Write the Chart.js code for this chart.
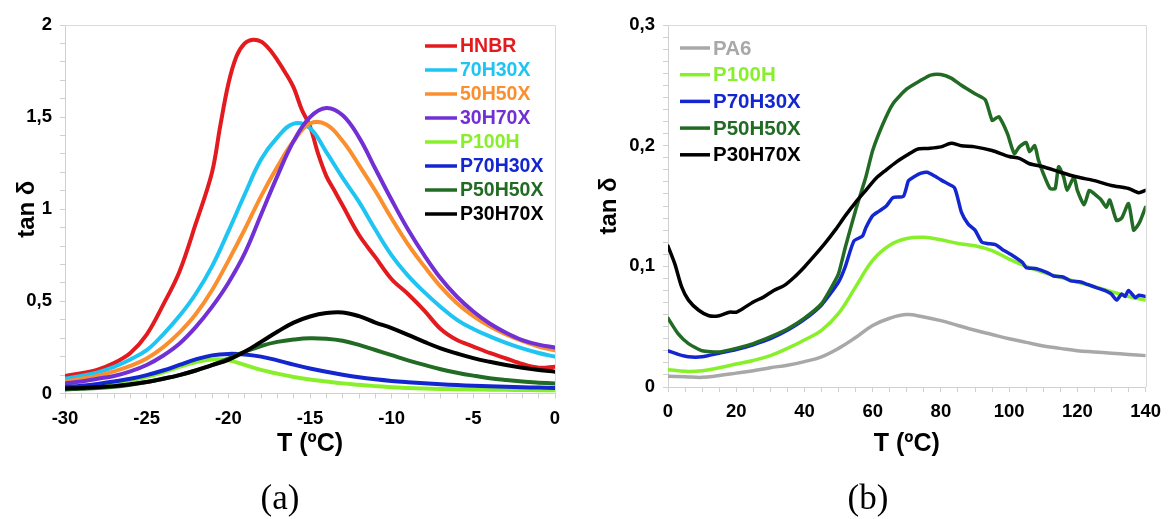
<!DOCTYPE html>
<html>
<head>
<meta charset="utf-8">
<script src="https://cdn.jsdelivr.net/npm/chart.js@4.4.1/dist/chart.umd.min.js"></script>
<style>
  html, body { margin: 0; padding: 0; background: #fff; }
  #wrap { position: relative; width: 1170px; height: 519px; overflow: hidden; }
  canvas { position: absolute; top: 0; }
  #chartA { left: 0; }
  #chartB { left: 590px; }
</style>
</head>
<body>
<div id="wrap">
  <canvas id="chartA" width="590" height="519"></canvas>
  <canvas id="chartB" width="580" height="519"></canvas>
</div>
<script>
// ---- Panel (a): tan δ of the rubber phases, -30 … 0 ºC ----
const tempA = [-30,-29,-28,-27,-26,-25,-24,-23,-22,-21,-20,-19,-18,-17,-16,-15,-14,-13,-12,-11,-10,-9,-8,-7,-6,-5,-4,-3,-2,-1,0];
const tempHNBR = [-30,-29,-28,-27,-26,-25,-24,-23,-22,-21,-20.5,-20,-19.5,-19,-18.5,-18,-17.5,-17,-16.5,-16,-15.5,-15,-14.5,-14,-13.5,-13,-12,-11,-10,-9,-8,-7,-6,-5,-4,-3,-2,-1,0];
const hnbr    = [0.095,0.11,0.13,0.165,0.22,0.32,0.48,0.66,0.92,1.2,1.45,1.68,1.83,1.90,1.92,1.91,1.87,1.81,1.74,1.66,1.54,1.45,1.30,1.18,1.10,1.02,0.86,0.74,0.62,0.54,0.45,0.35,0.29,0.255,0.22,0.19,0.16,0.14,0.145];
const h70x30  = [0.08,0.095,0.115,0.145,0.185,0.235,0.32,0.42,0.54,0.69,0.88,1.08,1.27,1.39,1.465,1.44,1.31,1.17,1.04,0.89,0.75,0.64,0.55,0.47,0.40,0.35,0.31,0.275,0.245,0.22,0.20];
const h50x50  = [0.065,0.08,0.095,0.12,0.15,0.19,0.25,0.33,0.43,0.56,0.72,0.89,1.07,1.23,1.37,1.465,1.46,1.37,1.24,1.10,0.95,0.81,0.69,0.58,0.49,0.42,0.365,0.32,0.285,0.255,0.235];
const h30x70  = [0.055,0.065,0.08,0.095,0.12,0.155,0.205,0.27,0.36,0.47,0.60,0.76,0.97,1.18,1.37,1.50,1.55,1.51,1.39,1.22,1.05,0.89,0.75,0.625,0.525,0.445,0.38,0.33,0.29,0.265,0.25];
const p100hA  = [0.03,0.036,0.044,0.055,0.07,0.09,0.115,0.145,0.17,0.185,0.18,0.155,0.128,0.108,0.09,0.076,0.065,0.055,0.047,0.04,0.034,0.03,0.027,0.025,0.023,0.022,0.021,0.02,0.019,0.018,0.018];
const p70h30xA = [0.035,0.042,0.052,0.065,0.08,0.10,0.125,0.155,0.185,0.207,0.215,0.212,0.2,0.18,0.157,0.136,0.118,0.102,0.088,0.077,0.068,0.061,0.055,0.05,0.046,0.042,0.039,0.036,0.034,0.032,0.03];
const p50h50xA = [0.022,0.026,0.03,0.036,0.047,0.062,0.08,0.10,0.125,0.154,0.19,0.226,0.258,0.28,0.293,0.30,0.297,0.286,0.264,0.236,0.208,0.18,0.155,0.132,0.113,0.097,0.083,0.073,0.065,0.059,0.054];
const p30h70xA = [0.027,0.03,0.035,0.04,0.05,0.062,0.08,0.10,0.125,0.154,0.183,0.226,0.28,0.335,0.385,0.418,0.437,0.44,0.42,0.385,0.355,0.318,0.28,0.245,0.217,0.192,0.172,0.155,0.14,0.128,0.118];

// ---- Panel (b): tan δ of the polyamide blends, 0 … 140 ºC ----
const tempB = [0,5,10,15,20,25,30,35,40,45,50,55,60,65,70,75,80,85,90,95,100,105,110,115,120,125,130,135,140];
const pa6   = [0.009,0.0085,0.008,0.0095,0.0115,0.0135,0.016,0.018,0.021,0.025,0.032,0.041,0.051,0.057,0.060,0.058,0.055,0.051,0.047,0.0435,0.040,0.037,0.034,0.032,0.030,0.029,0.028,0.027,0.026];
const p100hB = [0.0144,0.013,0.0135,0.016,0.019,0.022,0.026,0.032,0.039,0.047,0.061,0.083,0.105,0.1175,0.123,0.124,0.122,0.119,0.117,0.113,0.106,0.100,0.095,0.091,0.087,0.083,0.079,0.075,0.072];
const tempP70 = [0,3,6,10,15,20,25,30,35,40,45,50,52,54.5,57,58,60,62,64,66,69,70.5,72,74,76,78,81,84,86,88,90,92,93.5,96,98,101,104,105,108,111,113,116,118,121,123,126,128,130,131.5,133,134,135,137,138,140];
const p70h30xB = [0.030,0.027,0.025,0.025,0.028,0.031,0.035,0.040,0.047,0.056,0.068,0.087,0.100,0.121,0.125,0.132,0.142,0.146,0.150,0.157,0.158,0.171,0.174,0.177,0.178,0.175,0.170,0.165,0.145,0.135,0.130,0.120,0.119,0.118,0.114,0.109,0.103,0.099,0.098,0.095,0.092,0.091,0.088,0.087,0.085,0.082,0.080,0.077,0.072,0.077,0.075,0.080,0.074,0.076,0.075];
const tempP50 = [0,3,6,10,15,20,25,30,35,40,45,48,50,52,55,58,60,63,66,70,74,77,80,83,86,90,93,95,96,97,99.5,101.5,103,105,106,107.5,108.5,110,112,113.5,114.5,116,117,119,120,122,123.5,125,127,128.5,129.5,131.5,133,135,136.5,137.5,138.5,140];
const p50h50xB = [0.057,0.044,0.036,0.030,0.029,0.032,0.036,0.0415,0.048,0.057,0.069,0.083,0.094,0.116,0.1465,0.174,0.196,0.218,0.235,0.247,0.254,0.2585,0.259,0.256,0.250,0.243,0.238,0.221,0.2225,0.224,0.21,0.1935,0.199,0.2025,0.195,0.2,0.189,0.177,0.1645,0.1645,0.1825,0.174,0.163,0.174,0.163,0.151,0.163,0.16,0.155,0.149,0.155,0.138,0.14,0.152,0.13,0.133,0.138,0.149];
const tempP30 = [0,2,4,6,9,12,15,18,20,22,25,28,31,34,37,40,43,46,49,52,55,58,61,64,67,70,73,76,80,83,86,90,95,100,103,106,110,115,120,125,130,135,138,140];
const p30h70xB = [0.1167,0.102,0.083,0.072,0.0636,0.059,0.059,0.062,0.062,0.065,0.0705,0.0745,0.080,0.084,0.091,0.0995,0.109,0.119,0.130,0.142,0.153,0.163,0.173,0.180,0.1866,0.192,0.197,0.1977,0.199,0.202,0.200,0.199,0.196,0.191,0.1895,0.185,0.1825,0.178,0.174,0.171,0.167,0.1645,0.161,0.163];

const SANS = '"Liberation Sans", Arial, Helvetica, sans-serif';
const SERIF = '"Liberation Serif", "Times New Roman", serif';
const AXIS_GREY = '#d0d0d0';

// Frame, legend, axis titles and panel letter
const decor = {
  id: 'decor',
  beforeDatasetsDraw(chart) {
    const { ctx, chartArea: a } = chart;
    ctx.save();
    ctx.strokeStyle = '#dadada';
    ctx.lineWidth = 1;
    ctx.beginPath();
    ctx.moveTo(a.left, Math.round(a.top) + 0.5);
    ctx.lineTo(Math.round(a.right) + 0.5, Math.round(a.top) + 0.5);
    ctx.lineTo(Math.round(a.right) + 0.5, a.bottom);
    ctx.stroke();
    ctx.restore();
  },
  afterDraw(chart, args, o) {
    const { ctx, chartArea: a } = chart;
    ctx.save();
    // legend
    const lg = o.legend;
    ctx.font = 'bold ' + lg.size + 'px ' + SANS;
    ctx.textBaseline = 'middle';
    ctx.textAlign = 'left';
    chart.data.datasets.forEach((ds, i) => {
      const y = lg.y + i * lg.gap;
      ctx.strokeStyle = ds.borderColor;
      ctx.lineWidth = 3.5;
      ctx.beginPath();
      ctx.moveTo(lg.x, y);
      ctx.lineTo(lg.x + lg.len, y);
      ctx.stroke();
      ctx.fillStyle = ds.borderColor;
      ctx.fillText(ds.label, lg.x + lg.len + 3, y + 1);
    });
    // axis titles
    ctx.fillStyle = '#000';
    ctx.font = 'bold 25px ' + SANS;
    ctx.textAlign = 'center';
    ctx.fillText('T (ºC)', (a.left + a.right) / 2, o.xTitleY);
    ctx.save();
    ctx.translate(o.yTitleX, (a.top + a.bottom) / 2);
    ctx.rotate(-Math.PI / 2);
    ctx.font = 'bold 24px ' + SANS;
    ctx.fillText('tan δ', 0, 0);
    ctx.restore();
    // panel letter
    ctx.font = '35px ' + SERIF;
    ctx.fillText(o.panel, o.panelX, o.panelY);
    ctx.restore();
  }
};

function toPoints(xs, ys) { return xs.map((x, i) => ({ x, y: ys[i] })); }

function commaLabel(v) { return String(Math.round(v * 10) / 10).replace('.', ','); }

function buildChart(canvas, cfg) {
  const n = cfg.series.length;
  return new Chart(canvas, {
    type: 'line',
    data: {
      datasets: cfg.series.map((s, i) => ({
        label: s.label,
        data: toPoints(s.x, s.y),
        borderColor: s.color,
        backgroundColor: s.color,
        borderWidth: cfg.lineWidth,
        pointRadius: 0,
        tension: s.tension,
        fill: false,
        borderJoinStyle: 'round',
        borderCapStyle: 'round',
        order: n - i
      }))
    },
    options: {
      responsive: false,
      animation: false,
      devicePixelRatio: 1,
      layout: { padding: cfg.padding },
      plugins: {
        legend: { display: false },
        tooltip: { enabled: false },
        decor: cfg.decor
      },
      scales: {
        x: {
          type: 'linear',
          min: cfg.x.min, max: cfg.x.max,
          afterFit: s => { s.height = cfg.x.height; },
          ticks: {
            stepSize: cfg.x.minor, autoSkip: false, maxRotation: 0, maxTicksLimit: 1000,
            color: '#000', padding: 9,
            font: { family: SANS, size: 18.5, weight: 'bold' },
            callback: v => (Math.round(v) % cfg.x.major === 0 ? String(Math.round(v)) : '')
          },
          grid: { drawOnChartArea: false, drawTicks: true, tickLength: 5, color: AXIS_GREY },
          border: { color: AXIS_GREY, width: 1 }
        },
        y: {
          type: 'linear',
          min: 0, max: cfg.y.max,
          afterFit: s => { s.width = cfg.y.width; },
          ticks: {
            stepSize: cfg.y.minor, autoSkip: false, maxTicksLimit: 1000,
            color: '#000', padding: 8,
            font: { family: SANS, size: 18.5, weight: 'bold' },
            callback: v => {
              const k = Math.round(v / cfg.y.minor);
              return k % cfg.y.every === 0 ? commaLabel(v) : '';
            }
          },
          grid: { drawOnChartArea: false, drawTicks: true, tickLength: 5, color: AXIS_GREY },
          border: { color: AXIS_GREY, width: 1 }
        }
      }
    },
    plugins: [decor]
  });
}

buildChart(document.getElementById('chartA'), {
  lineWidth: 4,
  padding: { left: 0, top: 25, right: 35, bottom: 0 },
  x: { min: -30, max: 0, minor: 1, major: 5, height: 125.5 },
  y: { max: 2, minor: 0.1, every: 5, width: 65 },
  series: [
    { label: 'HNBR',    x: tempHNBR, y: hnbr,     color: '#e31b1f', tension: 0.35 },
    { label: '70H30X',  x: tempA,    y: h70x30,   color: '#1ec5f2', tension: 0.4 },
    { label: '50H50X',  x: tempA,    y: h50x50,   color: '#fb8f2e', tension: 0.4 },
    { label: '30H70X',  x: tempA,    y: h30x70,   color: '#7230d4', tension: 0.4 },
    { label: 'P100H',   x: tempA,    y: p100hA,   color: '#88f02a', tension: 0.4 },
    { label: 'P70H30X', x: tempA,    y: p70h30xA, color: '#1426d0', tension: 0.4 },
    { label: 'P50H50X', x: tempA,    y: p50h50xA, color: '#226b24', tension: 0.4 },
    { label: 'P30H70X', x: tempA,    y: p30h70xA, color: '#000000', tension: 0.4 }
  ],
  decor: {
    legend: { x: 425, y: 46, gap: 24, len: 32, size: 19.5 },
    xTitleY: 444, yTitleX: 27, panel: '(a)', panelX: 280, panelY: 500
  }
});

buildChart(document.getElementById('chartB'), {
  lineWidth: 3.5,
  padding: { left: 0, top: 25, right: 18.5, bottom: 0 },
  x: { min: 0, max: 140, minor: 5, major: 20, height: 132 },
  y: { max: 0.3, minor: 0.01, every: 10, width: 78 },
  series: [
    { label: 'PA6',     x: tempB,   y: pa6,      color: '#a8a8a8', tension: 0.4 },
    { label: 'P100H',   x: tempB,   y: p100hB,   color: '#88f02a', tension: 0.4 },
    { label: 'P70H30X', x: tempP70, y: p70h30xB, color: '#1426d0', tension: 0.2 },
    { label: 'P50H50X', x: tempP50, y: p50h50xB, color: '#226b24', tension: 0.2 },
    { label: 'P30H70X', x: tempP30, y: p30h70xB, color: '#000000', tension: 0.25 }
  ],
  decor: {
    legend: { x: 90, y: 48, gap: 26.7, len: 30, size: 20.5 },
    xTitleY: 444, yTitleX: 19, panel: '(b)', panelX: 278, panelY: 500
  }
});
</script>
</body>
</html>
